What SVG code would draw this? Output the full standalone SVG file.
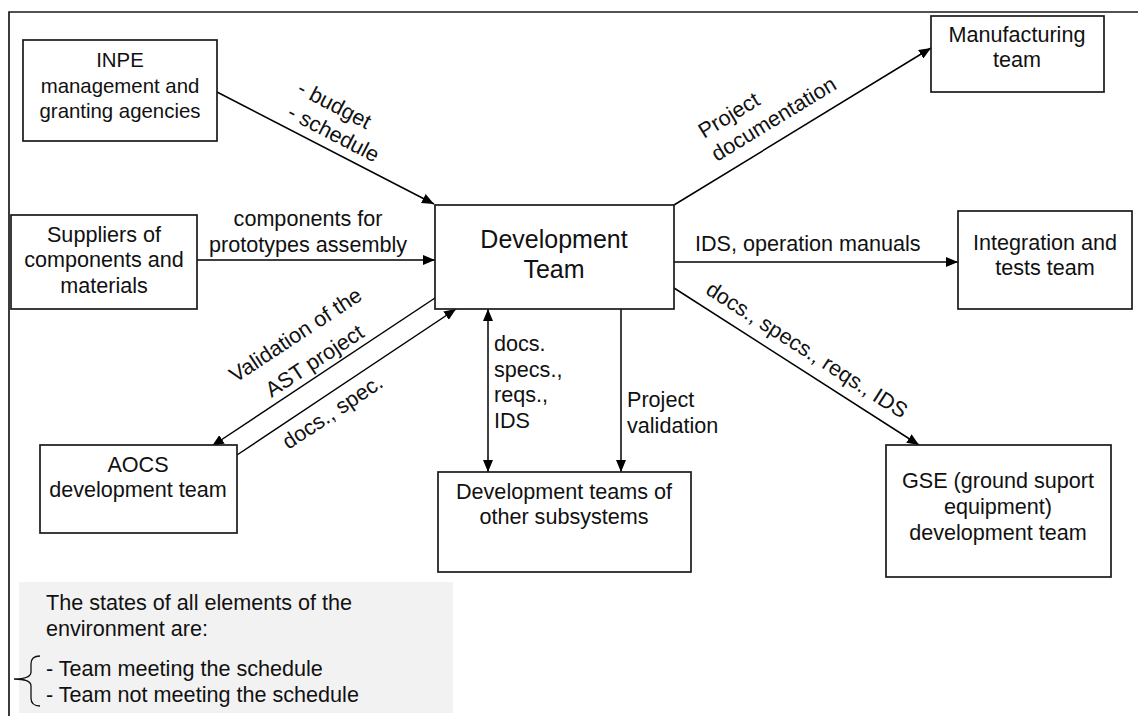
<svg xmlns="http://www.w3.org/2000/svg" width="1138" height="716" viewBox="0 0 1138 716">
<defs>
<marker id="ah" viewBox="0 0 12 10" refX="12" refY="5" markerWidth="12" markerHeight="10" markerUnits="userSpaceOnUse" orient="auto-start-reverse">
<path d="M0,0 L12,5 L0,10 Z" fill="#000"/>
</marker>
<style>
.box{fill:#fff;stroke:#1a1a1a;stroke-width:1.7}
.t{font-family:"Liberation Sans",Arial,sans-serif;font-size:21.6px;fill:#111}
.c{text-anchor:middle}
.big{font-size:25px}
.sm{font-size:20.4px}
.ln{fill:none;stroke:#000;stroke-width:1.5}
</style>
</defs>
<rect width="1138" height="716" fill="#fff"/>
<path d="M9,716 L9,12 L1138,12" fill="none" stroke="#1a1a1a" stroke-width="1.7"/>

<g id="connectors">
<path class="ln" d="M217,92 L434,204" marker-end="url(#ah)"/>
<path class="ln" d="M197,260 L435,260" marker-end="url(#ah)"/>
<path class="ln" d="M435,298 L212,446" marker-end="url(#ah)"/>
<path class="ln" d="M237,455 L456,309" marker-end="url(#ah)"/>
<path class="ln" d="M488,309 L488,472" marker-start="url(#ah)" marker-end="url(#ah)"/>
<path class="ln" d="M621,309 L621,472" marker-end="url(#ah)"/>
<path class="ln" d="M674,205 L931,48" marker-end="url(#ah)"/>
<path class="ln" d="M670,262 L958,262" marker-end="url(#ah)"/>
<path class="ln" d="M674,288 L919,445" marker-end="url(#ah)"/>
<text class="t" transform="translate(296,93) rotate(27.4)">- budget</text>
<text class="t" transform="translate(286,117) rotate(27.4)">- schedule</text>
<text class="t c" x="308" y="226">components for</text>
<text class="t c" x="308" y="252">prototypes assembly</text>
<text class="t c" transform="translate(299.5,341) rotate(-33.4)">Validation of the</text>
<text class="t c" transform="translate(318.5,367) rotate(-33.4)">AST project</text>
<text class="t c" transform="translate(336.5,418) rotate(-33.7)">docs., spec.</text>
<text class="t" x="494" y="351">docs.</text>
<text class="t" x="494" y="377">specs.,</text>
<text class="t" x="494" y="402">reqs.,</text>
<text class="t" x="494" y="428">IDS</text>
<text class="t" x="627" y="407">Project</text>
<text class="t" x="627" y="433">validation</text>
<text class="t" transform="translate(704,139) rotate(-31.4)">Project</text>
<text class="t" transform="translate(717,162) rotate(-31.4)">documentation</text>
<text class="t" x="695" y="251">IDS, operation manuals</text>
<text class="t c" transform="translate(803,356) rotate(32.6)">docs., specs., reqs., IDS</text>
</g>

<g id="inpe">
<rect class="box" x="23" y="40" width="194" height="101"/>
<text class="t c sm" x="120" y="67">INPE</text>
<text class="t c sm" x="120" y="93">management and</text>
<text class="t c sm" x="120" y="118">granting agencies</text>
</g>
<g id="suppliers">
<rect class="box" x="11" y="215" width="186" height="94"/>
<text class="t c" x="104" y="242">Suppliers of</text>
<text class="t c" x="104" y="267">components and</text>
<text class="t c" x="104" y="293">materials</text>
</g>
<g id="devteam">
<rect class="box" x="435" y="205" width="239" height="104"/>
<text class="t c big" x="554" y="248">Development</text>
<text class="t c big" x="554" y="278">Team</text>
</g>
<g id="manufacturing">
<rect class="box" x="931" y="16" width="173" height="76"/>
<text class="t c" x="1017" y="42">Manufacturing</text>
<text class="t c" x="1017" y="67">team</text>
</g>
<g id="integration">
<rect class="box" x="958" y="211" width="174" height="98"/>
<text class="t c" x="1045" y="250">Integration and</text>
<text class="t c" x="1045" y="275">tests team</text>
</g>
<g id="aocs">
<rect class="box" x="40" y="445" width="197" height="88"/>
<text class="t c" x="138" y="472">AOCS</text>
<text class="t c" x="138" y="497">development team</text>
</g>
<g id="others">
<rect class="box" x="438" y="472" width="253" height="100"/>
<text class="t c" x="564" y="499">Development teams of</text>
<text class="t c" x="564" y="524">other subsystems</text>
</g>
<g id="gse">
<rect class="box" x="886" y="445" width="225" height="132"/>
<text class="t c" x="998" y="488">GSE (ground suport</text>
<text class="t c" x="998" y="514">equipment)</text>
<text class="t c" x="998" y="540">development team</text>
</g>
<g id="legend">
<rect x="19" y="582" width="434" height="131" fill="#f2f2f2"/>
<text class="t" x="46" y="610">The states of all elements of the</text>
<text class="t" x="46" y="636">environment are:</text>
<text class="t" x="46" y="676">- Team meeting the schedule</text>
<text class="t" x="46" y="702">- Team not meeting the schedule</text>
<path d="M40,656 Q31,656 31,664 L31,672 Q31,679 14,679 Q31,679 31,686 L31,698 Q31,706 40,706" fill="none" stroke="#111" stroke-width="1.3"/>
</g>
</svg>
